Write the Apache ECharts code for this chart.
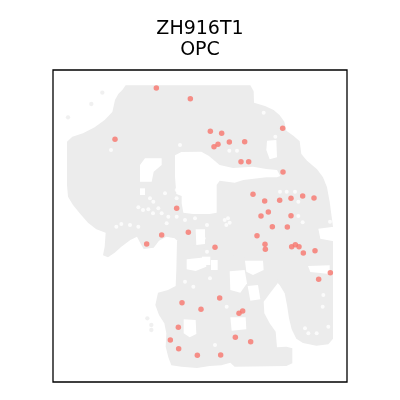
<!DOCTYPE html>
<html>
<head>
<meta charset="utf-8">
<script src="https://cdn.jsdelivr.net/npm/echarts@6/dist/echarts.min.js"></script>
<style>html,body{margin:0;padding:0;background:#fff;}#c{width:400px;height:400px;}</style>
</head>
<body>
<div id="c"></div>
<script>
// spatial coordinates (arbitrary image units, x right, y down)
const tissueMain = [[208,60],[218,46],[592,46],[602,64],[603,98],[636,108],[662,120],[680,136],[694,155],[700,182],[722,198],[740,214],[745,252],[762,272],[792,298],[810,322],[822,352],[830,395],[836,440],[840,470],[840,806],[826,823],[790,827],[750,819],[730,806],[716,778],[708,745],[702,705],[695,670],[680,645],[660,625],[620,600],[580,585],[540,568],[490,555],[470,545],[455,538],[420,530],[380,518],[365,505],[340,500],[318,512],[302,533],[272,537],[262,520],[252,500],[232,510],[205,530],[185,548],[165,562],[150,556],[155,530],[158,488],[130,478],[105,458],[82,432],[60,405],[45,380],[42,345],[42,215],[58,200],[90,190],[125,172],[155,150],[178,126],[186,90],[196,72]];
const tissueLower = [[372,512],[420,525],[470,540],[520,552],[570,562],[625,582],[668,600],[674,640],[652,668],[632,695],[634,730],[650,760],[668,785],[672,832],[700,830],[718,835],[718,880],[700,888],[545,890],[532,878],[505,886],[470,888],[432,894],[385,890],[355,886],[346,862],[338,830],[340,790],[334,760],[318,735],[307,705],[315,668],[345,660],[368,648],[370,600]];
const holeCentral = [[366,256],[385,246],[445,245],[468,258],[500,285],[540,294],[600,290],[640,297],[672,300],[682,318],[672,322],[640,322],[571,330],[545,338],[500,332],[491,345],[491,428],[470,432],[420,432],[391,428],[386,400],[386,378],[370,372],[366,320]];
const holeNotch = [[642,212],[670,210],[672,262],[650,268],[640,240]];
const holeLeft = [[276,265],[326,265],[326,285],[302,305],[296,335],[261,335],[261,285]];
const holeLeft2 = [[261,355],[276,355],[276,375],[261,375]];
const holeRightEdge = [[796,476],[842,470],[842,514],[802,506]];
const holeA = [[447,560],[472,560],[472,585],[447,585]];
const holeB = [[576,572],[630,572],[632,600],[600,615],[580,605]];
const holeC = [[765,588],[830,586],[830,612],[772,606]];
const holeD = [[401,568],[458,562],[460,590],[428,603],[401,598]];
const holeE = [[530,604],[575,600],[582,640],[562,668],[532,660]];
const holeE2 = [[584,648],[615,645],[622,688],[592,692]];
const holeF = [[532,742],[578,742],[580,778],[536,782]];
const holeG = [[428,478],[456,478],[456,522],[430,525]];
const holeH = [[392,748],[428,750],[430,792],[410,802],[392,790]];
const holeI = [[474,570],[494,570],[494,600],[474,600]];

const grayPolygons = [tissueMain, tissueLower];
const whitePolygons = [holeCentral, holeNotch, holeLeft, holeLeft2, holeRightEdge, holeA, holeB, holeC, holeD, holeE, holeE2, holeF, holeG, holeH, holeI];

const graySpots = [[148,68],[115,102],[45,142],[283,745],[295,765],[295,780]];
const whiteSpots = [[371,360],[371,385],[291,385],[301,395],[256,412],[270,420],[286,418],[300,430],[336,370],[316,415],[326,430],[346,440],[371,440],[396,450],[426,445],[341,460],[256,470],[231,465],[174,240],[381,225],[632,128],[667,200],[529,242],[552,242],[681,365],[701,365],[726,365],[736,395],[736,438],[749,457],[831,455],[462,465],[452,505],[462,545],[515,450],[525,445],[530,458],[520,465],[811,675],[809,710],[756,775],[766,790],[791,790],[826,770],[190,470],[205,462],[396,635],[421,650],[471,625],[521,710],[486,825]];
const opcSpots = [[310,54],[412,86],[186,208],[472,184],[506,190],[529,216],[575,215],[483,230],[495,223],[564,275],[587,275],[689,175],[690,306],[371,415],[326,495],[406,487],[281,522],[600,373],[635,393],[680,391],[714,385],[749,378],[783,384],[646,426],[624,438],[714,437],[658,470],[703,471],[612,497],[636,523],[637,538],[716,530],[727,524],[738,530],[751,549],[786,542],[486,532],[832,608],[797,628],[387,698],[500,684],[444,718],[558,730],[569,723],[376,772],[352,810],[377,836],[547,802],[593,815],[433,856],[503,855]];

const titleLines = ['ZH916T1', 'OPC'];

function polySeries(polys, color) {
  return {
    type: 'custom',
    coordinateSystem: 'cartesian2d',
    silent: true,
    data: polys.map((p, i) => [i]),
    renderItem: function (params, api) {
      const pts = polys[params.dataIndex].map(p => api.coord(p));
      return { type: 'polygon', shape: { points: pts }, style: { fill: color, stroke: null } };
    },
    encode: { x: -1, y: -1 }
  };
}

const chart = echarts.init(document.getElementById('c'), null, { renderer: 'canvas' });
chart.setOption({
  animation: false,
  backgroundColor: '#fff',
  title: {
    text: titleLines.join('\n'),
    left: 'center',
    top: 14,
    textStyle: { fontFamily: 'DejaVu Sans', fontSize: 19, lineHeight: 21, fontWeight: 'normal', color: '#000' }
  },
  grid: { left: 53, top: 70, width: 294, height: 312, show: true, borderColor: '#000', borderWidth: 1.3, backgroundColor: 'transparent' },
  xAxis: { type: 'value', min: 0, max: 882, show: false },
  yAxis: { type: 'value', min: 0, max: 936, inverse: true, show: false },
  series: [
    polySeries(grayPolygons, '#ececec'),
    { type: 'scatter', data: graySpots, symbolSize: 4.3, itemStyle: { color: '#ececec' }, silent: true },
    polySeries(whitePolygons, '#ffffff'),
    { type: 'scatter', data: whiteSpots, symbolSize: 4, itemStyle: { color: '#ffffff' }, silent: true },
    { type: 'scatter', data: opcSpots, symbolSize: 5.5, itemStyle: { color: '#f8766d' }, silent: true }
  ]
});
</script>
</body>
</html>
